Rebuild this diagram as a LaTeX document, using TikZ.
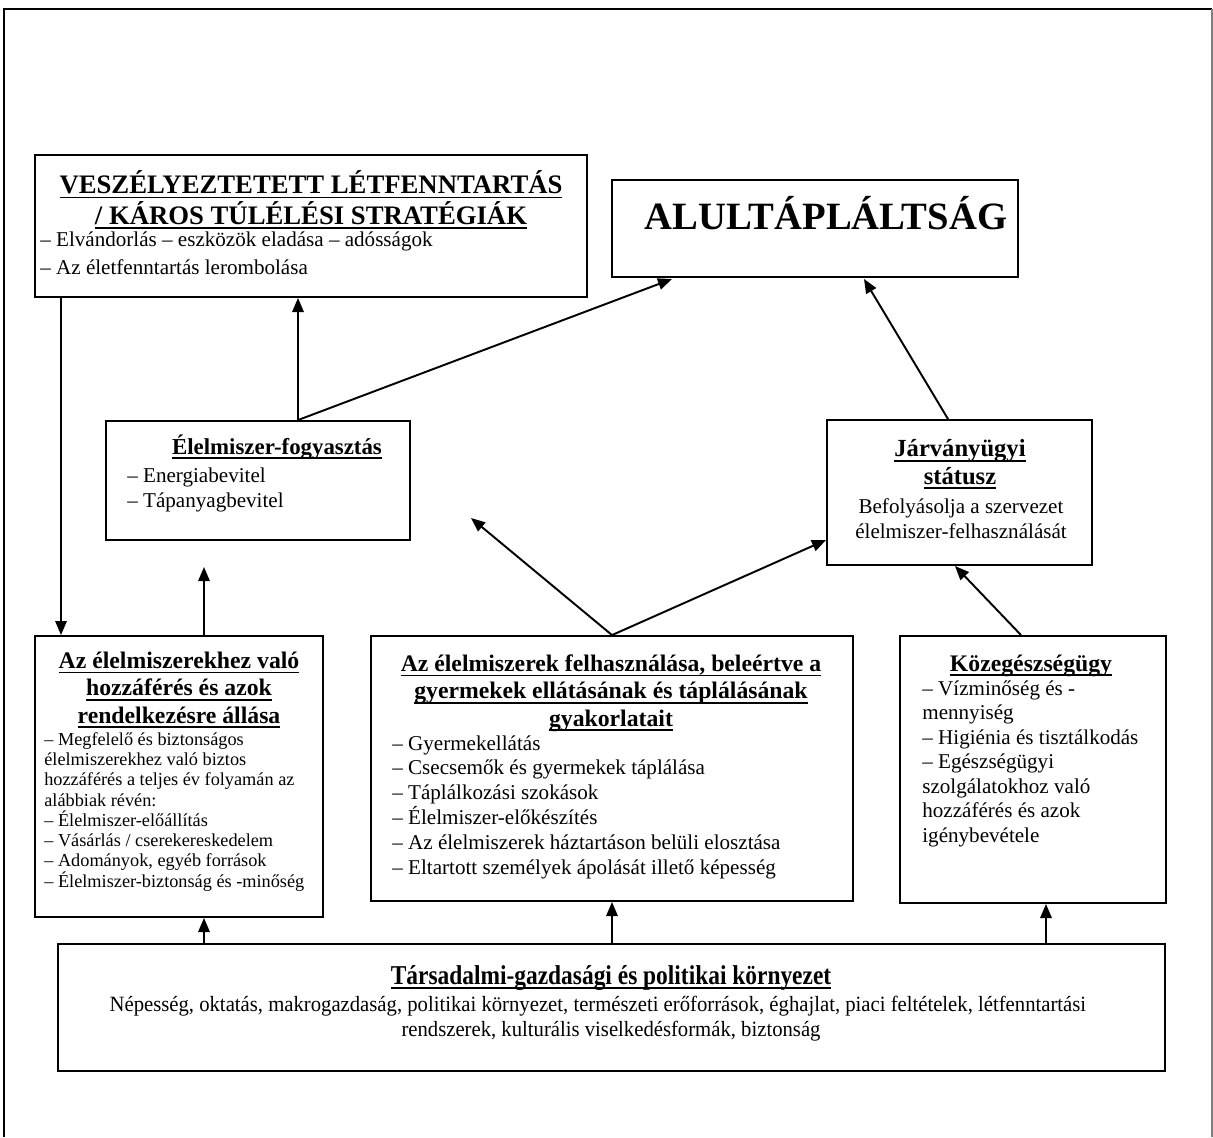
\documentclass[tikz,border=0pt]{standalone}
\usepackage{fontspec}
\setmainfont{Liberation Serif}
\usepackage{graphicx}
\usepackage{tikz}
\usetikzlibrary{positioning}
\usetikzlibrary{arrows.meta}
\newcommand{\ulined}[1]{\setbox0\hbox{#1}\rlap{\rule[-2.6pt]{\wd0}{0.9pt}}\box0}
\tikzset{>={Triangle[length=8pt,width=6.5pt]}}
\tikzset{panel/.style={draw, line width=1.1pt, inner sep=0pt},
  link/.style={->, line width=1.1pt},
  head/.style={font=\bfseries\fontsize{13.5}{15.4}\selectfont, align=center, inner sep=0pt},
  body/.style={font=\fontsize{12}{14.1}\selectfont, align=left, inner sep=0pt}}

\begin{document}
\begin{tikzpicture}[x=0.02cm, y=-0.02cm]

\useasboundingbox (0,0) rectangle (1213,1137);
\draw[line width=0.9pt] (4,1137) -- (4,9) -- (1212,9);
\draw[line width=0.9pt, gray] (1212,9) -- (1212,1137);

\node[panel, minimum width=11.04cm, minimum height=2.84cm] (vesz) at (311,226) {};
\node[panel, minimum width=8.12cm, minimum height=1.94cm] (alul) at (815,228.5) {};
\node[panel, minimum width=6.08cm, minimum height=2.38cm] (fogy) at (258,480.5) {};
\node[panel, minimum width=5.30cm, minimum height=2.90cm] (jarv) at (959.5,492.5) {};
\node[panel, minimum width=5.76cm, minimum height=5.62cm] (access) at (179,776.5) {};
\node[panel, minimum width=9.64cm, minimum height=5.30cm] (util) at (612,768.5) {};
\node[panel, minimum width=5.32cm, minimum height=5.34cm] (kozeg) at (1033,769.5) {};
\node[panel, minimum width=22.14cm, minimum height=2.54cm] (bot) at (611.5,1007.5) {};

\node[head, font=\bfseries\fontsize{15.2}{17.2}\selectfont, anchor=base] (vesz-h) at (311,224)
  {\ulined{VESZÉLYEZTETETT LÉTFENNTARTÁS}\\ \ulined{/ KÁROS TÚLÉLÉSI STRATÉGIÁK}};
\node[body, font=\fontsize{12}{15.4}\selectfont, anchor=base west] (vesz-b) at (40,274)
  {– Elvándorlás – eszközök eladása – adósságok\\ – Az életfenntartás lerombolása};

\node[head, font=\bfseries\fontsize{22}{26}\selectfont, anchor=base] (alul-h) at (826,229) {ALULTÁPLÁLTSÁG};

\node[head, font=\bfseries\fontsize{13}{15}\selectfont, anchor=base] (fogy-h) at (277,454) {\ulined{Élelmiszer-fogyasztás}};
\node[body, anchor=base west] (fogy-b) at (127,507) {– Energiabevitel\\ – Tápanyagbevitel};

\node[head, font=\bfseries\fontsize{14}{15.4}\selectfont, anchor=base] (jarv-h) at (960,484) {\ulined{Járványügyi}\\ \ulined{státusz}};
\node[body, align=center, anchor=base] (jarv-b) at (961,538) {Befolyásolja a szervezet\\ élelmiszer-felhasználását};

\node[head, anchor=base] (access-h) at (179,723)
  {\ulined{Az élelmiszerekhez való}\\ \ulined{hozzáférés és azok}\\ \ulined{rendelkezésre állása}};
\node[body, font=\fontsize{10.4}{11.5}\selectfont, anchor=base west] (access-b) at (44,887)
  {– Megfelelő és biztonságos\\ élelmiszerekhez való biztos\\ hozzáférés a teljes év folyamán az\\ alábbiak révén:\\
   – Élelmiszer-előállítás\\ – Vásárlás / cserekereskedelem\\ – Adományok, egyéb források\\ – Élelmiszer-biztonság és -minőség};

\node[head, anchor=base] (util-h) at (611,726)
  {\ulined{Az élelmiszerek felhasználása, beleértve a}\\ \ulined{gyermekek ellátásának és táplálásának}\\ \ulined{gyakorlatait}};
\node[body, anchor=base west] (util-b) at (392,874)
  {– Gyermekellátás\\ – Csecsemők és gyermekek táplálása\\ – Táplálkozási szokások\\ – Élelmiszer-előkészítés\\
   – Az élelmiszerek háztartáson belüli elosztása\\ – Eltartott személyek ápolását illető képesség};

\node[head, anchor=base] (kozeg-h) at (1031,671) {\ulined{Közegészségügy}};
\node[body, font=\fontsize{12}{13.9}\selectfont, anchor=base west] (kozeg-b) at (922,842)
  {– Vízminőség és -\\ mennyiség\\ – Higiénia és tisztálkodás\\ – Egészségügyi\\ szolgálatokhoz való\\ hozzáférés és azok\\ igénybevétele};

\node[head, font=\bfseries\fontsize{15.5}{17}\selectfont, anchor=base] (bot-h) at (611,984)
  {\scalebox{0.86}[1]{\ulined{Társadalmi-gazdasági és politikai környezet}}};
\node[body, font=\fontsize{12.4}{14.2}\selectfont, align=center, anchor=base] (bot-b) at (611,1036)
  {\scalebox{0.95}[1]{Népesség, oktatás, makrogazdaság, politikai környezet, természeti erőforrások, éghajlat, piaci feltételek, létfenntartási}\hspace*{15pt}\\
   \scalebox{0.95}[1]{rendszerek, kulturális viselkedésformák, biztonság}};

\coordinate (xa) at (61,0);
\coordinate (xb) at (204,0);
\coordinate (xc) at (298,0);
\coordinate (xd) at (1046,0);
\coordinate (xe) at (948,0);
\coordinate (xf) at (1021,0);
\coordinate (fogtip) at (204,567);
\coordinate (utiltip) at (471,518);
\coordinate (alultip1) at (672,279);
\coordinate (alultip2) at (864,279);
\coordinate (jarvtip1) at (826,540);
\coordinate (jarvtip2) at (955,566);

\draw[link] (vesz.south -| xa) -- (access.north -| xa);
\draw[link] (access.north -| xb) -- (fogtip);
\draw[link] (fogy.north -| xc) -- (vesz.south -| xc);
\draw[link] (fogy.north -| xc) -- (alultip1);
\draw[link] (jarv.north -| xe) -- (alultip2);
\draw[link] (util.north) -- (utiltip);
\draw[link] (util.north) -- (jarvtip1);
\draw[link] (kozeg.north -| xf) -- (jarvtip2);
\draw[link] (bot.north -| xb) -- (access.south -| xb);
\draw[link] (bot.north -| util.south) -- (util.south);
\draw[link] (bot.north -| xd) -- (kozeg.south -| xd);

\end{tikzpicture}
\end{document}
